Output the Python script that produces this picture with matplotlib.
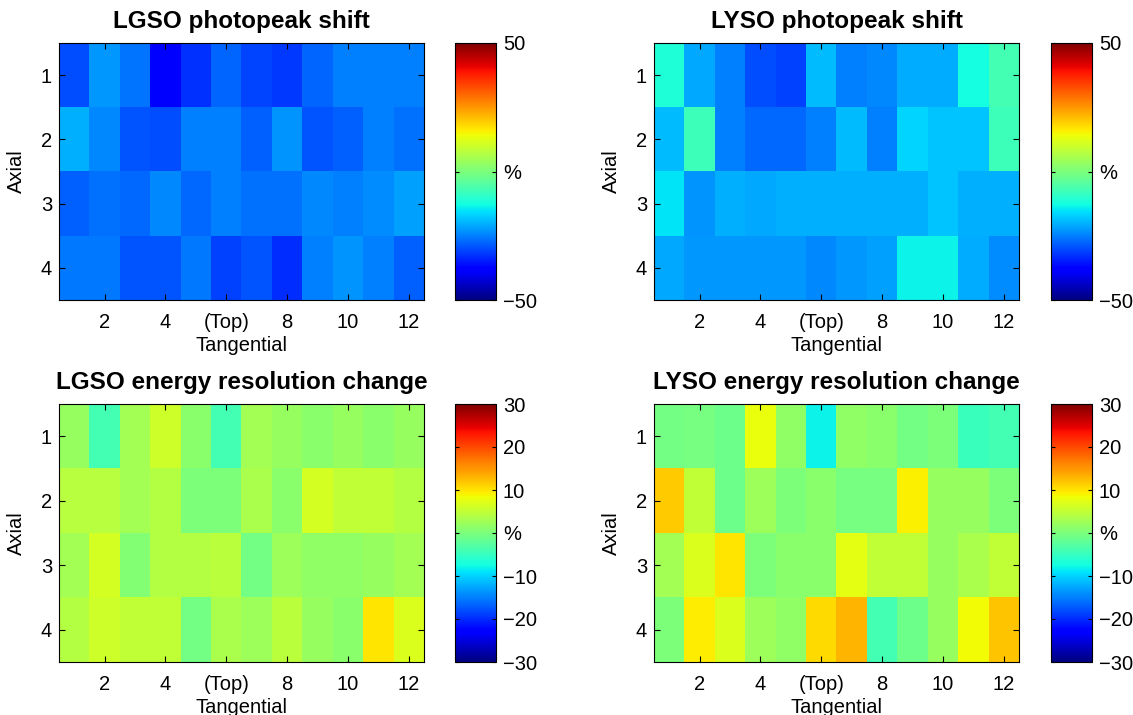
"""Photopeak shift and energy resolution change maps for LGSO and LYSO blocks.

Four 4x12 crystal maps (axial x tangential), each with its own colorbar.
Saves to out.png.
"""

import matplotlib.pyplot as plt
import numpy as np

plt.rcParams["font.family"] = ["Liberation Sans", "DejaVu Sans"]

# Tangential tick positions / labels (position 6 is the top of the ring)
TANG_TICKS = [2, 4, 6, 8, 10, 12]
TANG_LABELS = ["2", "4", "(Top)", "8", "10", "12"]
AXIAL_TICKS = [1, 2, 3, 4]

# Photopeak shift (%), rows = axial 1..4, cols = tangential 1..12
lgso_peak = [
    [-30, -22.5, -26, -38, -32.5, -27.5, -30.5, -32, -27.5, -25, -25, -25],
    [-20, -24, -29, -30, -25, -25, -28, -23, -29, -28, -25, -26.5],
    [-28, -26.5, -27, -24, -27, -25, -26.5, -26.5, -24, -25, -23.5, -21.5],
    [-25.5, -25.5, -29, -29, -25.5, -31, -29, -33, -25, -23, -25, -28],
]
lyso_peak = [
    [-11, -21, -25, -30, -31, -19, -25, -24, -20.5, -20.5, -12.5, -7],
    [-19, -7.5, -25, -27, -27, -25, -19, -25, -16.5, -18, -18, -7.5],
    [-15, -23, -20, -21, -20, -20, -20, -20, -20, -18, -20, -20],
    [-21, -22.5, -22.5, -22.5, -22.5, -24, -22.5, -21.5, -13.5, -13.5, -20.5, -23.5],
]

# Energy resolution change (%)
lgso_eres = [
    [2, -4.2, 3, 6, 1, -4, 3, 2, 1, 2, 1, 2],
    [4.4, 4.4, 3, 4, 0, 0, 3.5, 1, 6.5, 5, 5, 4],
    [3, 6.5, 0.5, 4, 4, 4.5, -0.5, 2.5, 1.5, 1.5, 2, 3],
    [4, 6, 5, 5, -0.5, 3.5, 2.5, 4.5, 2, 1, 10, 7],
]
lyso_eres = [
    [-0.5, -0.3, -1, 8, 1.5, -8, 1.5, 1, -0.5, 0, -4.8, -4],
    [11.6, 5, -1, 2.5, 0, 1, -0.3, -0.3, 9.3, 2, 2, 0],
    [3, 7, 10, 0, 1, 1, 7.7, 5, 5, 2, 3.5, 5],
    [0, 9.5, 7, 2.5, 1.5, 10.7, 13, -4, -1, 2, 8.5, 12],
]

PANELS = [
    ("LGSO photopeak shift", lgso_peak, 50, [-50, 0, 50]),
    ("LYSO photopeak shift", lyso_peak, 50, [-50, 0, 50]),
    ("LGSO energy resolution change", lgso_eres, 30, [-30, -20, -10, 0, 10, 20, 30]),
    ("LYSO energy resolution change", lyso_eres, 30, [-30, -20, -10, 0, 10, 20, 30]),
]

W, H = 1133, 715
# pixel boxes for axes / colorbars
AX_X = [(59, 424), (654, 1019)]
CB_X = [(455, 496), (1051, 1092)]
ROW_Y = [(43, 300), (404, 662)]

FS = 14.5


def _box(x0, x1, y0, y1):
    return [x0 / W, 1 - y1 / H, (x1 - x0) / W, (y1 - y0) / H]


def _fmt_cbar(v):
    if v == 0:
        return "%"
    return f"{v:d}".replace("-", "\u2212")


fig = plt.figure(figsize=(W / 100, H / 100), dpi=100)
cmap = plt.get_cmap("jet")

for i, (title, data, lim, cticks) in enumerate(PANELS):
    row, col = divmod(i, 2)
    ax = fig.add_axes(_box(*AX_X[col], *ROW_Y[row]))
    cax = fig.add_axes(_box(*CB_X[col], *ROW_Y[row]))

    im = ax.imshow(np.array(data), cmap=cmap, vmin=-lim, vmax=lim, aspect="auto",
                   interpolation="nearest", extent=(0.5, 12.5, 4.5, 0.5))
    ax.set_xticks(TANG_TICKS)
    ax.set_xticklabels(TANG_LABELS)
    ax.set_yticks(AXIAL_TICKS)
    ax.tick_params(direction="in", top=True, right=True, length=4, width=0.8,
                   labelsize=FS)
    ax.tick_params(axis="x", pad=9)
    ax.tick_params(axis="y", pad=5)
    ax.set_xlabel("Tangential", fontsize=FS, labelpad=3)
    ax.set_ylabel("Axial", fontsize=FS, labelpad=11)
    ax.set_title(title, fontsize=17.5, fontweight="bold", pad=11)

    cb = fig.colorbar(im, cax=cax, ticks=cticks)
    cb.outline.set_linewidth(0.8)
    cax.set_yticklabels([_fmt_cbar(v) for v in cticks])
    cax.tick_params(direction="in", left=True, right=True, length=3, width=0.8,
                    labelsize=FS, pad=5)

fig.savefig("out.png", dpi=100)
